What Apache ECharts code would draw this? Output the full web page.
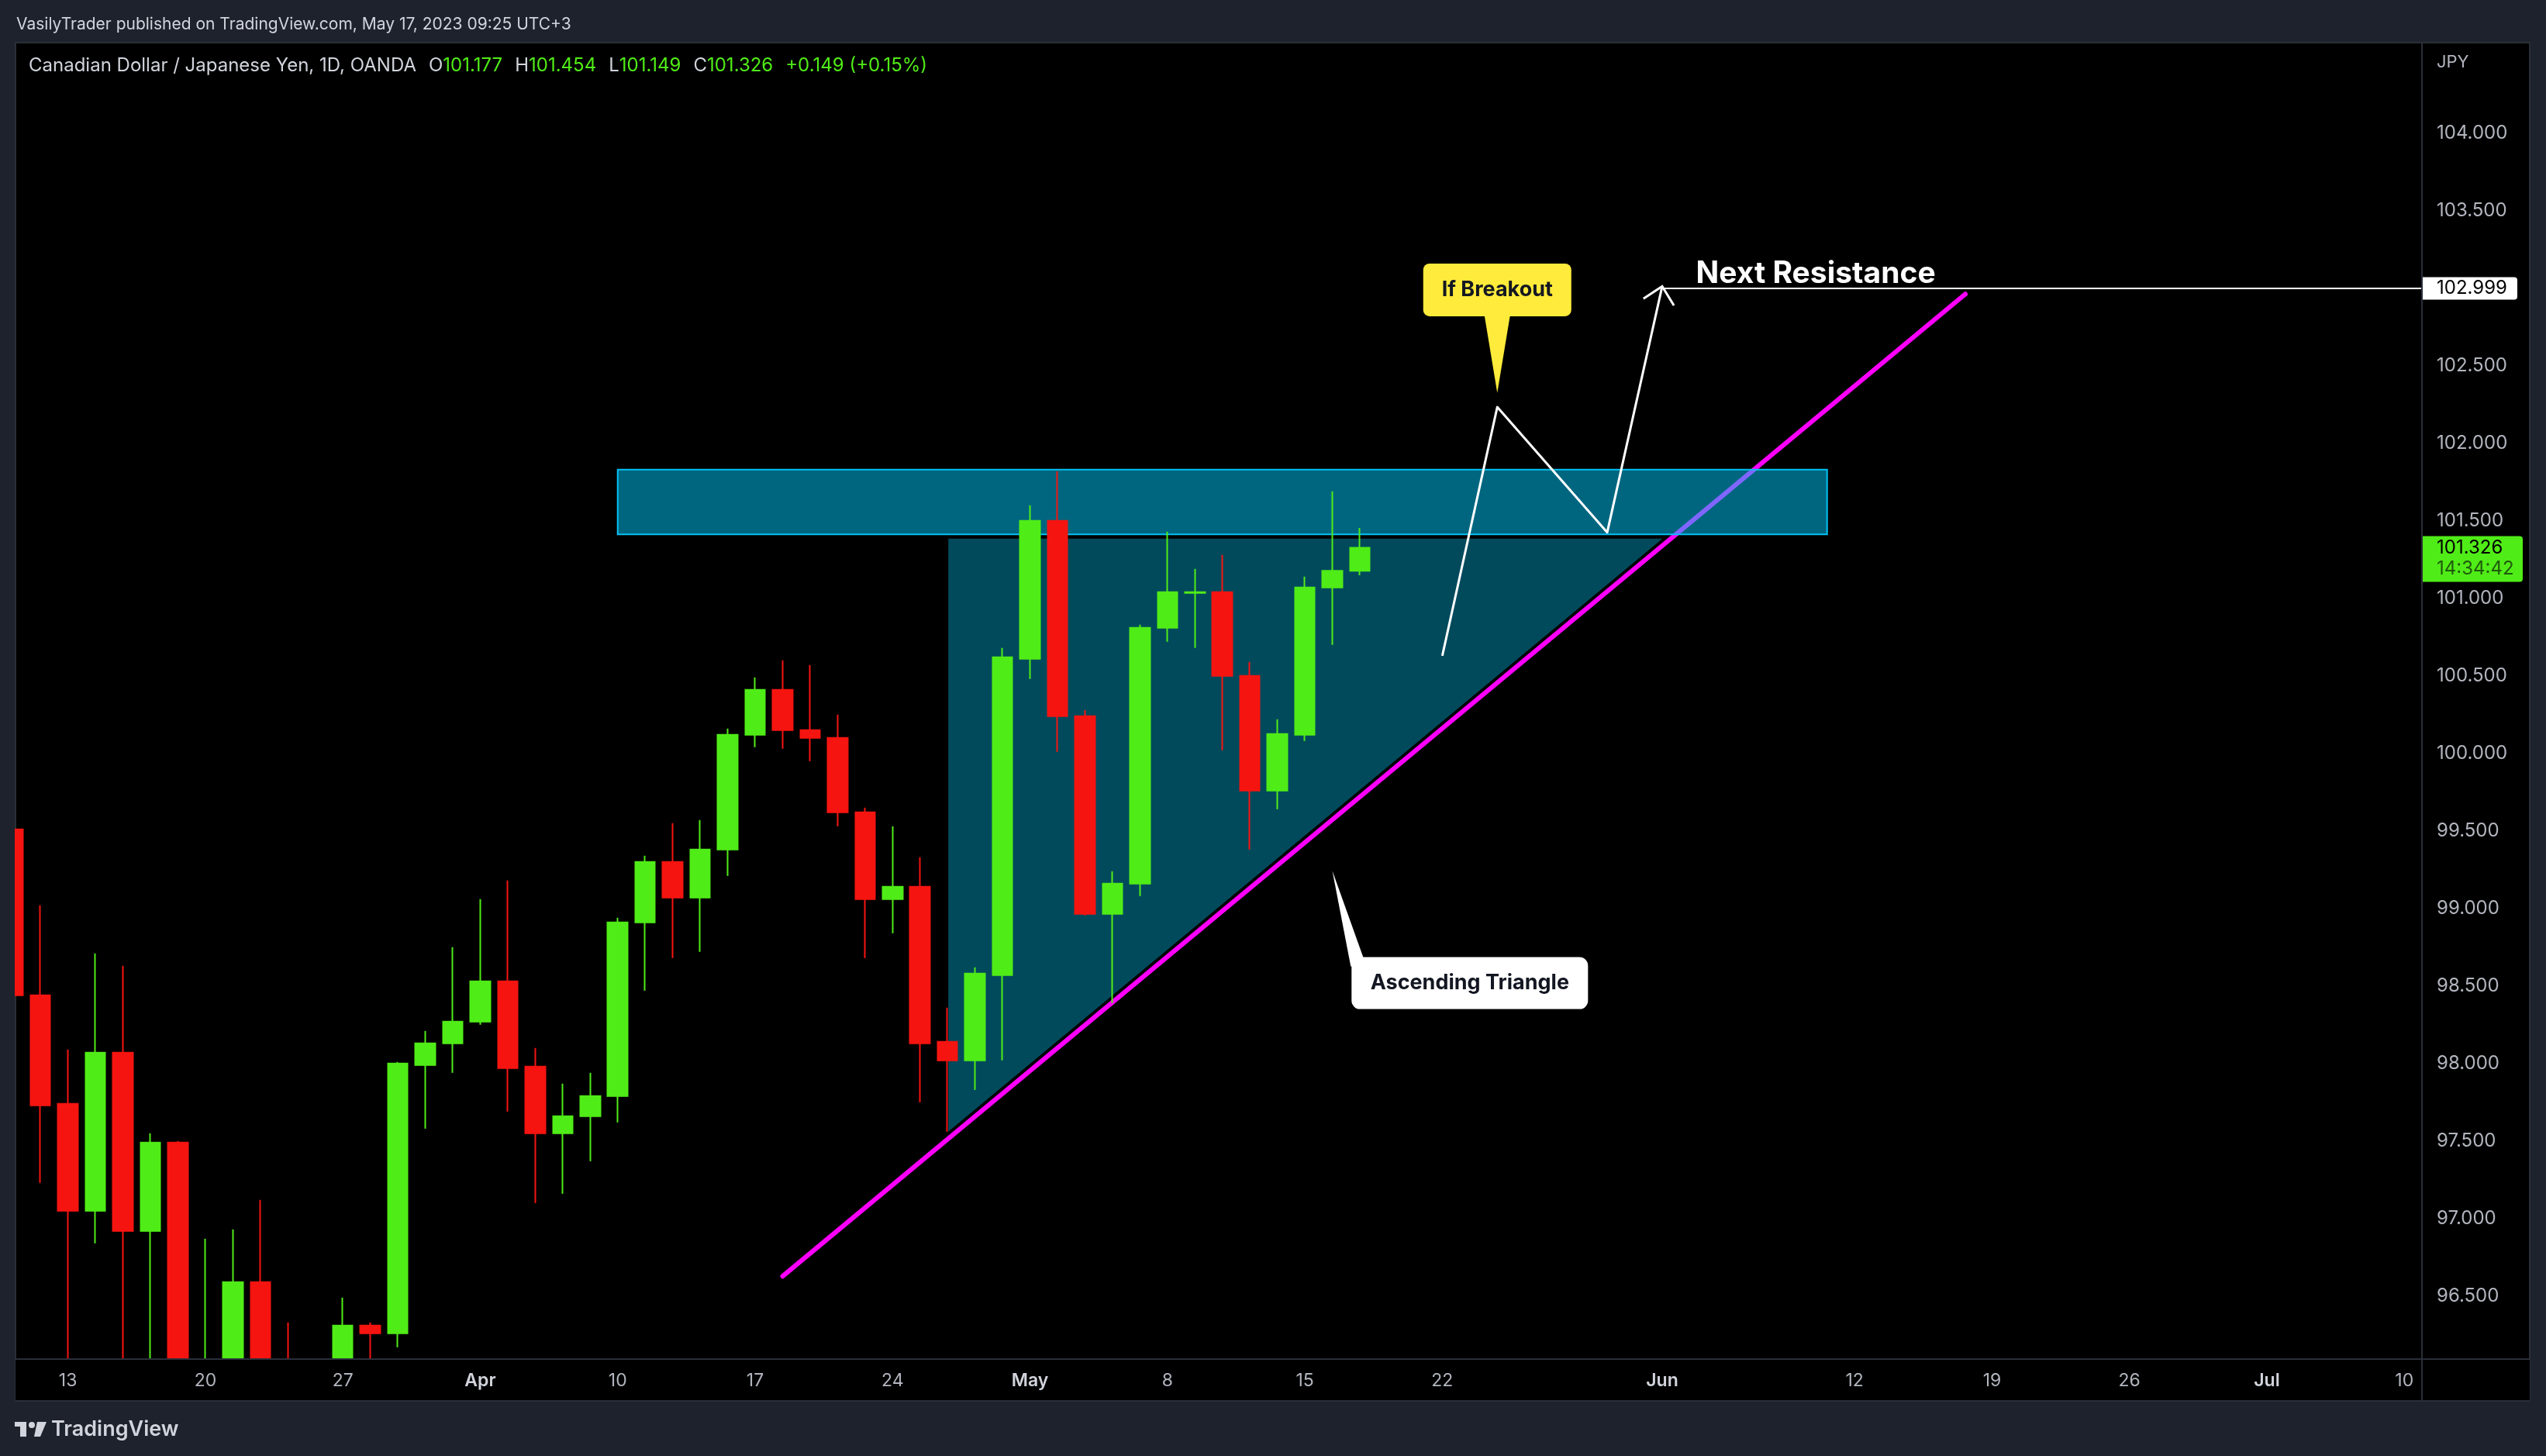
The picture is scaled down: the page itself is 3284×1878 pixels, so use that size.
<!DOCTYPE html>
<html><head><meta charset="utf-8">
<script src="https://cdn.jsdelivr.net/npm/echarts@6/dist/echarts.min.js"></script>
<style>html,body{margin:0;padding:0;background:#1e222d;overflow:hidden}#c{width:3284px;height:1878px}</style>
</head><body><div id="c"></div>
<script>
// ---------- data ----------
const dates = ['03-09','03-10','03-13','03-14','03-15','03-16','03-17','03-20','03-21','03-22','03-23','03-24','03-27','03-28','03-29','03-30','03-31',
'04-03','04-04','04-05','04-06','04-07','04-10','04-11','04-12','04-13','04-14','04-17','04-18','04-19','04-20','04-21','04-24','04-25','04-26','04-27','04-28',
'05-01','05-02','05-03','05-04','05-05','05-08','05-09','05-10','05-11','05-12','05-15','05-16','05-17','05-18','05-19','05-22','05-23','05-24','05-25','05-26','05-29','05-30','05-31',
'06-01','06-02','06-05','06-06','06-07','06-08','06-09','06-12','06-13','06-14','06-15','06-16','06-19','06-20','06-21','06-22','06-23','06-26','06-27','06-28','06-29','06-30',
'07-03','07-04','07-05','07-06','07-07','07-10'];
const opens  = [99.51,98.44,97.74,97.05,98.07,96.92,97.49,95.70,95.96,96.59,95.88,95.62,95.83,96.31,96.26,97.99,98.13,98.27,98.53,97.98,97.55,97.66,97.79,98.91,99.30,99.07,99.38,100.12,100.41,100.15,100.10,99.62,99.06,99.14,98.14,98.02,98.57,100.61,101.50,100.24,98.965,99.16,100.81,101.035,101.04,100.50,99.76,100.12,101.07,101.177];
const closes = [98.44,97.73,97.05,98.07,96.92,97.49,95.92,95.96,96.59,95.88,95.62,95.83,96.31,96.26,98.00,98.13,98.27,98.53,97.97,97.55,97.66,97.79,98.91,99.30,99.07,99.38,100.12,100.41,100.15,100.10,99.62,99.06,99.14,98.13,98.02,98.58,100.62,101.50,100.24,98.965,99.16,100.81,101.04,101.04,100.50,99.76,100.125,101.07,101.177,101.326];
const lows   = [98.42,97.23,95.95,96.84,95.98,96.02,95.80,95.55,95.80,95.78,95.45,95.40,95.70,95.95,96.17,97.58,97.94,98.25,97.69,97.10,97.16,97.37,97.62,98.47,98.68,98.72,99.21,100.04,100.03,99.95,99.53,98.68,98.84,97.75,97.56,97.83,98.02,100.48,100.01,98.955,98.39,99.08,100.72,100.68,100.02,99.38,99.64,100.08,100.70,101.149];
const highs  = [99.53,99.02,98.09,98.71,98.63,97.55,97.50,96.87,96.93,97.12,96.33,95.98,96.49,96.33,98.01,98.21,98.75,99.06,99.18,98.10,97.87,97.94,98.94,99.34,99.55,99.57,100.16,100.49,100.60,100.57,100.25,99.65,99.53,99.33,98.36,98.62,100.68,101.60,101.82,100.28,99.24,100.83,101.43,101.19,101.28,100.59,100.22,101.14,101.69,101.454];
const xTickDates  = ['03-13','03-20','03-27','04-03','04-10','04-17','04-24','05-01','05-08','05-15','05-22','06-01','06-12','06-19','06-26','07-03','07-10'];
const xTickLabels = ['13','20','27','Apr','10','17','24','May','8','15','22','Jun','12','19','26','Jul','10'];
const monthLabels = ['Apr','May','Jun','Jul'];
const yMin = 96.0935, yMax = 104.5835, yStep = 0.5;

// drawings, in (bar number, price)
const zoneBox    = [[23, 101.83], [67, 101.412]];
const triangle   = [[35, 101.39], [61.09, 101.39], [35, 97.55]];
const trendLine  = [[29.0, 96.628], [72.03, 102.962]];
const projection = [[53, 100.629], [55, 102.233], [59, 101.425], [61, 103.012]];
const targetLevel = 102.999, targetStart = 61;
const targetText = 'Next Resistance', targetTextAt = [62.23, 103.09];
const callouts = [
  {text: 'If Breakout', center: [55, 102.989], tip: [55, 102.325]},
  {text: 'Ascending Triangle', center: [54, 98.518], tip: [49, 99.242]}
];
const lastClose = 101.326, countdown = '14:34:42';
const header1 = 'VasilyTrader published on TradingView.com, May 17, 2023 09:25 UTC+3';
const symbolTitle = 'Canadian Dollar / Japanese Yen, 1D, OANDA';
const ohlcKeys = ['O','H','L','C'];
const ohlcVals = ['101.177','101.454','101.149','101.326'];
const changeText = '+0.149 (+0.15%)';

// ---------- styles ----------
const UP = '#50ec17', DOWN = '#f61410';
const FONT = 'Inter, "Noto Sans", sans-serif';
const calloutStyle = [
  {w: 191, h: 68, r: 8, fill: '#ffeb3b', base: [[-16.5, 33], [16.5, 33]]},
  {w: 305, h: 67, r: 11, fill: '#ffffff', base: [[-153.5, -21.5], [-137.5, -21.5], [-137.5, -33.5]]}
];

const candleData = opens.map((o, i) => [o, closes[i], lows[i], highs[i]]);
const tickMap = {};
xTickDates.forEach((d, i) => tickMap[d] = xTickLabels[i]);

let line2 = '{g|' + symbolTitle + '}{s|}';
ohlcKeys.forEach((k, i) => { line2 += '{g|' + k + '}{v|' + ohlcVals[i] + '}{s|}'; });
line2 += '{v|' + changeText + '}';

const chart = echarts.init(document.getElementById('c'), null, {renderer: 'canvas'});

const option = {
  animation: false,
  backgroundColor: '#1e222d',
  grid: {left: -1, top: 55, width: 3120, height: 1698, outerBoundsMode: 'none', containLabel: false},
  xAxis: [
    {type: 'category', data: dates, boundaryGap: true, z: 60,
     axisLine: {show: false}, axisTick: {show: false}, splitLine: {show: false},
     axisLabel: {interval: 0, margin: 17, color: '#b2b5be', fontFamily: FONT, fontSize: 23,
       formatter: v => { const t = tickMap[v]; if (!t) return ''; return monthLabels.indexOf(t) >= 0 ? '{m|' + t + '}' : t; },
       rich: {m: {color: '#d1d4dc', fontFamily: FONT, fontSize: 23, fontWeight: 600}}}},
    {type: 'value', min: 0.5, max: 88.5, show: false}
  ],
  yAxis: [{type: 'value', position: 'right', min: yMin, max: yMax, minInterval: yStep, maxInterval: yStep,
    axisLine: {show: false}, axisTick: {show: false}, splitLine: {show: false},
    axisLabel: {margin: 24, color: '#b2b5be', fontFamily: FONT, fontSize: 24, showMinLabel: false, showMaxLabel: false,
      formatter: v => { if (Math.abs(v / yStep - Math.round(v / yStep)) > 1e-6 || v > 104.2) return ''; return v.toFixed(3); }}}],
  series: [
    // triangle
    {type: 'custom', xAxisIndex: 1, z: 1, silent: true, data: [0], clip: true,
     renderItem: (p, api) => ({type: 'polygon', shape: {points: triangle.map(t => api.coord(t))},
        style: {fill: 'rgba(0,204,255,0.36)', stroke: '#000', lineWidth: 2}})},
    // trend line
    {type: 'line', xAxisIndex: 1, z: 2, silent: true, symbol: 'none', data: trendLine,
     lineStyle: {color: '#ff00ff', width: 6, cap: 'round'}},
    // resistance zone
    {type: 'custom', xAxisIndex: 1, z: 3, silent: true, data: [0], clip: true,
     renderItem: (p, api) => { const a = api.coord(zoneBox[0]), b = api.coord(zoneBox[1]);
       return {type: 'rect', shape: {x: a[0], y: a[1], width: b[0] - a[0], height: b[1] - a[1]},
         style: {fill: 'rgba(0,204,255,0.5)', stroke: '#00c2f2', lineWidth: 2}}; }},
    // candles
    {type: 'candlestick', z: 5, silent: true, clip: true, data: candleData, barWidth: 26,
     itemStyle: {color: UP, color0: DOWN, borderColor: UP, borderColor0: DOWN, borderColorDoji: UP, borderWidth: 2}},
    // projection path
    {type: 'line', xAxisIndex: 1, z: 6, silent: true, symbol: 'none', data: projection,
     lineStyle: {color: '#ffffff', width: 3, join: 'round'}},
    // arrowhead, target line, text
    {type: 'custom', xAxisIndex: 1, z: 6, silent: true, data: [0], clip: false,
     renderItem: (p, api) => {
       const n = projection.length;
       const p1 = api.coord(projection[n - 2]), p2 = api.coord(projection[n - 1]);
       let dx = p1[0] - p2[0], dy = p1[1] - p2[1]; const L = Math.hypot(dx, dy); dx /= L; dy /= L;
       const ang = 44 * Math.PI / 180, len = 29;
       const w1 = [p2[0] + len * (dx * Math.cos(ang) - dy * Math.sin(ang)), p2[1] + len * (dx * Math.sin(ang) + dy * Math.cos(ang))];
       const w2 = [p2[0] + len * (dx * Math.cos(-ang) - dy * Math.sin(-ang)), p2[1] + len * (dx * Math.sin(-ang) + dy * Math.cos(-ang))];
       const t0 = api.coord([targetStart, targetLevel]);
       const right = p.coordSys.x + p.coordSys.width + 4;
       const tt = api.coord(targetTextAt);
       return {type: 'group', children: [
         {type: 'polyline', shape: {points: [w1, p2, w2]}, style: {stroke: '#fff', lineWidth: 3, fill: null, lineJoin: 'miter'}},
         {type: 'line', shape: {x1: t0[0], y1: t0[1], x2: right, y2: t0[1]}, style: {stroke: '#fff', lineWidth: 2}},
         {type: 'text', x: tt[0], y: tt[1], style: {text: targetText, fill: '#fff', font: 'bold 39px ' + FONT, verticalAlign: 'middle', align: 'left'}}
       ]};
     }},
    // callouts
    {type: 'custom', xAxisIndex: 1, z: 7, silent: true, data: callouts.map((c, i) => i), clip: false,
     renderItem: (p, api) => {
       const i = p.dataIndex, c = callouts[i], s = calloutStyle[i];
       const cc = api.coord(c.center), tp = api.coord(c.tip);
       const pts = [tp].concat(s.base.map(b => [cc[0] + b[0], cc[1] + b[1]]));
       return {type: 'group', children: [
         {type: 'polygon', shape: {points: pts}, style: {fill: s.fill}},
         {type: 'rect', shape: {x: cc[0] - s.w / 2, y: cc[1] - s.h / 2, width: s.w, height: s.h, r: s.r}, style: {fill: s.fill}},
         {type: 'text', x: cc[0], y: cc[1], style: {text: c.text, fill: '#131722', font: 'bold 27px ' + FONT, align: 'center', verticalAlign: 'middle'}}
       ]};
     }},
    // price labels on the axis
    {type: 'custom', xAxisIndex: 1, z: 80, silent: true, data: [0], clip: false,
     renderItem: (p, api) => {
       const x0 = p.coordSys.x + p.coordSys.width + 5;
       const yt = api.coord([1, targetLevel])[1], yc = api.coord([1, lastClose])[1];
       return {type: 'group', children: [
         {type: 'rect', z2: 1, shape: {x: x0, y: yt - 14.5, width: 123, height: 29, r: [0, 4, 4, 0]}, style: {fill: '#ffffff'}},
         {type: 'text', z2: 2, x: x0 + 19, y: yt, style: {text: targetLevel.toFixed(3), fill: '#000000', font: '24px ' + FONT, verticalAlign: 'middle'}},
         {type: 'rect', z2: 1, shape: {x: x0, y: yc - 15, width: 130, height: 59, r: [0, 4, 4, 0]}, style: {fill: UP}},
         {type: 'text', z2: 2, x: x0 + 19, y: yc, style: {text: lastClose.toFixed(3), fill: '#000000', font: '24px ' + FONT, verticalAlign: 'middle'}},
         {type: 'text', z2: 2, x: x0 + 19, y: yc + 27, style: {text: countdown, fill: '#1f5a0c', font: '24px ' + FONT, verticalAlign: 'middle'}}
       ]};
     }}
  ],
  graphic: [
    {type: 'rect', z: -5, shape: {x: 20, y: 55, width: 3243, height: 1752}, style: {fill: '#000000', stroke: '#2a2e39', lineWidth: 2}},
    // x-axis band and outer margin drawn over overflowing candles
    {type: 'rect', z: 10, shape: {x: 20, y: 1754, width: 3243, height: 53}, style: {fill: '#000000'}},
    {type: 'rect', z: 10, shape: {x: 0, y: 1807, width: 3284, height: 71}, style: {fill: '#1e222d'}},
    {type: 'line', z: 10, shape: {x1: 20, y1: 1807, x2: 3263, y2: 1807}, style: {stroke: '#2a2e39', lineWidth: 2}},
    {type: 'rect', z: 100, shape: {x: 0, y: 50, width: 19, height: 1765}, style: {fill: '#1e222d'}},
    {type: 'line', z: 100, shape: {x1: 3124, y1: 55, x2: 3124, y2: 1807}, style: {stroke: '#2a2e39', lineWidth: 2}},
    {type: 'line', z: 100, shape: {x1: 20, y1: 1753, x2: 3263, y2: 1753}, style: {stroke: '#2a2e39', lineWidth: 2}},
    {type: 'text', z: 100, x: 21, y: 32, style: {text: header1, fill: '#d1d4dc', font: '21px ' + FONT, verticalAlign: 'middle'}},
    {type: 'text', z: 100, x: 37, y: 85, style: {text: line2, verticalAlign: 'middle', font: '24px ' + FONT,
      rich: {g: {fill: '#d1d4dc', color: '#d1d4dc', fontSize: 24, fontFamily: FONT},
             v: {fill: UP, color: UP, fontSize: 24, fontFamily: FONT},
             s: {width: 16, fontSize: 24}}}},
    {type: 'text', z: 100, x: 3143, y: 80, style: {text: 'JPY', fill: '#b2b5be', font: '22px ' + FONT, verticalAlign: 'middle'}},
    // logo
    {type: 'rect', z: 100, shape: {x: 19, y: 1834, width: 15, height: 6}, style: {fill: '#d1d4dc'}},
    {type: 'rect', z: 100, shape: {x: 26, y: 1834, width: 8, height: 19}, style: {fill: '#d1d4dc'}},
    {type: 'circle', z: 100, shape: {cx: 41, cy: 1838, r: 4}, style: {fill: '#d1d4dc'}},
    {type: 'polygon', z: 100, shape: {points: [[48, 1834], [60, 1834], [52, 1853], [44, 1853]]}, style: {fill: '#d1d4dc'}},
    {type: 'text', z: 100, x: 66, y: 1844, style: {text: 'TradingView', fill: '#d1d4dc', font: '600 27px ' + FONT, verticalAlign: 'middle'}}
  ]
};
chart.setOption(option);
</script></body></html>
